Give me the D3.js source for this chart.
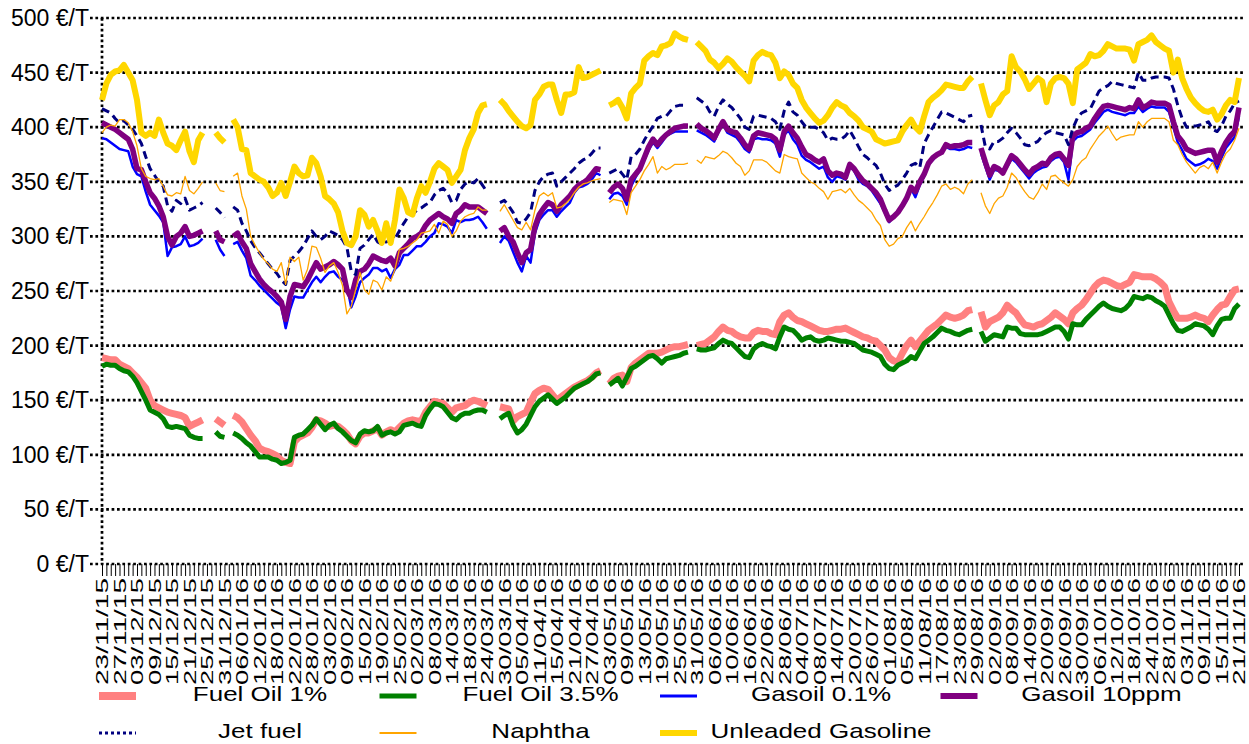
<!DOCTYPE html>
<html>
<head>
<meta charset="utf-8">
<script src="https://cdn.jsdelivr.net/npm/d3@7"></script>
<style>
  body { margin: 0; background: #fff; }
  svg { display: block; }
  text { font-family: "Liberation Sans", Arial, sans-serif; fill: #000; }
</style>
</head>
<body>
<svg id="chart" width="1249" height="744"></svg>
<script>
// one label every 4 business days
const tickLabels = ["23/11/15","27/11/15","03/12/15","09/12/15","15/12/15","21/12/15","25/12/15","31/12/15",
  "06/01/16","12/01/16","18/01/16","22/01/16","28/01/16","03/02/16","09/02/16","15/02/16","19/02/16","25/02/16",
  "02/03/16","08/03/16","14/03/16","18/03/16","24/03/16","30/03/16","05/04/16","11/04/16","15/04/16","21/04/16",
  "27/04/16","03/05/16","09/05/16","13/05/16","19/05/16","25/05/16","31/05/16","06/06/16","10/06/16","16/06/16",
  "22/06/16","28/06/16","04/07/16","08/07/16","14/07/16","20/07/16","26/07/16","01/08/16","05/08/16","11/08/16",
  "17/08/16","23/08/16","29/08/16","02/09/16","08/09/16","14/09/16","20/09/16","26/09/16","30/09/16","06/10/16",
  "12/10/16","18/10/16","24/10/16","28/10/16","03/11/16","09/11/16","15/11/16","21/11/16"]
const yTicks = [0, 50, 100, 150, 200, 250, 300, 350, 400, 450, 500]

// €/T per business day, null = no quote (holidays)
const fuelOil1 = [189,188,187,187,183,181,179,175,171,166,161,150,145,143,141,139,138,137,136,134,126,128,130,132,null,null,133,130,127,null,
  136,134,130,124,118,113,106,104,103,101,99,95,93,92,112,116,118,120,125,132,131,129,126,127,126,123,119,113,110,117,120,120,122,124,118,121,123,121,125,129,131,132,131,131,139,144,149,148,147,143,139,143,144,145,148,150,149,147,145,null,null,
  144,143,142,131,135,137,139,148,156,159,161,160,155,150,153,156,159,162,164,166,168,171,175,177,null,
  165,170,172,173,167,180,184,187,190,193,193,193,194,196,198,199,199,200,201,null,
  200,201,202,205,208,213,217,214,213,210,208,207,207,212,214,213,213,211,210,222,228,230,226,223,222,220,218,216,214,213,213,214,215,215,216,214,212,210,208,207,205,204,200,196,189,186,185,193,200,205,199,204,209,214,217,220,224,228,226,225,226,228,232,233,null,
  231,217,222,224,226,230,237,233,230,224,219,218,217,219,220,223,226,230,227,224,220,230,234,237,242,248,254,258,260,259,257,255,254,256,258,265,264,263,263,263,261,258,254,240,232,225,225,225,226,228,226,225,222,228,233,237,238,245,251,252]
const fuelOil35 = [181,183,182,182,179,177,176,172,166,158,150,141,139,137,133,126,125,126,125,124,118,116,115,115,null,null,121,117,116,null,
  120,118,115,111,108,103,98,98,98,96,95,92,93,95,116,118,119,123,127,133,128,123,127,129,124,121,117,113,111,119,122,121,122,126,118,120,121,119,121,127,128,129,127,126,136,142,147,146,144,139,134,132,136,138,138,140,141,141,139,null,null,
  133,136,138,127,120,123,128,136,144,149,152,155,151,147,150,153,157,161,163,165,167,170,174,175,null,
  164,167,170,163,171,179,181,184,187,190,191,188,184,188,189,190,191,193,194,null,
  197,196,196,197,198,202,205,203,202,198,194,190,189,197,200,202,200,199,197,208,217,215,214,210,205,207,208,205,204,205,207,206,205,204,204,203,202,199,196,195,194,192,190,183,179,178,182,184,186,190,188,195,202,205,208,212,216,214,213,211,210,212,214,215,null,
  213,204,207,210,209,208,217,216,216,211,210,210,210,210,211,213,215,217,217,213,206,220,219,219,224,228,232,236,239,236,234,233,232,234,238,245,244,243,245,244,241,239,236,228,220,214,213,215,217,220,219,218,215,210,218,224,225,225,234,238]
const gasoil01 = [390,389,386,383,380,379,378,364,357,355,341,329,324,319,313,282,290,291,293,300,291,292,294,298,null,null,297,288,282,null,
  293,295,287,280,264,260,255,251,247,243,239,236,216,233,245,244,244,251,258,263,258,263,267,268,263,260,255,235,245,258,262,265,271,271,268,270,262,270,274,283,283,287,291,291,295,300,303,312,311,309,303,315,313,315,315,316,318,313,307,null,null,
  294,300,296,286,276,268,282,276,303,315,320,324,324,318,323,327,331,340,345,346,348,352,358,356,null,
  334,339,340,337,329,346,354,361,370,379,386,381,386,392,394,396,396,396,396,null,
  397,395,393,390,387,396,403,395,393,391,386,380,377,389,390,389,389,388,385,373,393,397,389,384,374,370,368,365,362,364,354,350,355,354,352,364,360,352,348,346,342,336,330,322,313,318,322,327,333,344,336,347,355,366,370,375,378,382,380,380,379,380,382,381,null,
  376,364,352,361,360,358,364,371,368,363,358,353,358,361,363,364,369,372,373,368,352,387,391,392,395,398,404,409,414,416,414,413,412,411,413,413,419,414,417,419,418,418,418,414,400,386,379,371,368,365,366,368,371,369,362,372,381,386,391,410]
const gasoil10ppm = [404,402,400,398,395,392,389,380,362,361,350,340,335,328,318,300,292,300,303,309,300,301,303,305,null,null,305,297,295,null,
  300,303,295,289,275,268,261,256,252,249,245,240,224,245,256,255,254,260,268,276,270,272,274,277,274,270,251,244,260,268,270,275,282,280,278,277,280,273,285,289,293,298,300,303,310,315,318,321,318,316,312,321,324,329,327,327,327,324,321,null,null,
  305,308,300,295,285,276,285,288,309,320,326,331,329,323,329,333,337,343,347,349,352,357,362,361,null,
  340,345,348,344,334,352,357,362,372,382,389,384,389,393,396,399,400,401,401,null,
  403,399,397,394,390,398,405,398,396,395,390,384,380,392,395,394,393,392,389,379,396,401,395,390,382,375,373,370,368,371,360,356,358,357,354,366,362,356,351,348,344,340,334,324,315,318,322,328,335,345,341,350,357,367,372,375,377,384,382,383,383,384,386,386,null,
  381,368,356,364,362,358,366,374,371,366,361,357,362,364,367,366,372,375,376,371,365,392,395,396,399,401,408,414,419,420,419,418,417,416,418,417,425,418,420,423,422,422,422,420,405,392,387,380,378,376,377,378,379,379,368,378,386,392,396,418]
const jetFuel = [417,415,413,408,404,406,402,398,392,385,373,362,356,350,346,328,323,333,330,335,324,326,328,331,null,null,326,322,317,null,
  327,324,312,305,296,290,285,280,275,270,266,260,256,278,282,286,291,298,305,300,297,300,305,303,301,297,290,268,265,289,292,297,302,295,293,295,296,298,305,312,318,320,324,326,329,331,338,342,344,340,331,333,343,348,350,349,353,347,341,null,null,
  331,333,328,322,313,312,316,322,342,350,355,357,358,346,350,354,358,362,367,370,372,376,381,381,null,
  358,360,362,357,352,373,375,380,388,395,401,408,410,410,415,419,420,420,420,null,
  427,424,421,414,410,419,425,421,418,413,408,400,398,410,411,410,409,408,405,398,415,423,414,411,405,400,400,400,398,395,388,390,389,389,392,397,390,382,375,372,368,365,358,348,342,345,347,352,358,365,367,363,385,393,400,407,414,413,411,409,407,405,410,411,null,
  402,382,380,387,387,390,395,399,395,390,384,383,385,387,392,395,397,395,394,393,384,399,408,413,415,417,425,433,436,438,442,440,439,438,437,436,450,443,443,445,446,446,446,445,435,420,408,400,401,401,402,403,405,398,396,401,410,415,422,424]
const naphtha = [395,400,402,401,407,407,404,396,383,362,355,353,352,353,346,338,337,340,339,355,342,339,344,350,null,null,349,342,341,null,
  355,358,337,325,300,292,285,279,275,270,268,276,256,281,277,281,260,270,291,290,280,267,273,276,267,255,229,236,251,267,251,247,260,258,251,263,259,270,288,289,291,294,297,303,304,305,311,303,314,311,300,305,314,318,320,321,327,324,324,null,null,
  323,329,322,315,308,306,313,306,324,337,340,337,340,326,327,330,334,340,345,348,349,351,352,353,null,
  331,334,333,332,320,340,346,352,360,366,373,358,364,361,363,366,366,366,367,null,
  370,367,373,372,371,374,378,376,372,367,364,356,360,370,370,370,368,364,360,358,375,373,372,371,358,354,350,348,344,341,334,341,342,343,340,344,338,333,330,326,322,315,310,297,291,293,298,300,308,314,305,312,318,325,331,338,346,348,343,345,343,339,348,352,null,
  340,328,321,330,335,337,345,358,354,347,341,336,334,340,348,343,355,356,352,349,346,352,364,369,372,380,386,392,396,401,394,388,391,392,393,393,405,400,405,408,408,408,408,405,388,384,375,368,363,358,363,365,362,368,358,368,376,380,388,399]
const unleaded = [425,440,448,451,452,457,450,443,425,395,392,395,392,407,395,385,383,379,388,396,378,368,388,395,null,null,395,390,386,null,
  407,400,380,379,358,355,352,350,345,337,340,349,337,350,364,358,355,356,372,367,355,337,334,330,322,305,294,292,300,324,320,309,315,305,294,312,294,315,343,335,322,320,335,346,340,350,362,367,364,361,349,355,361,379,390,398,413,420,421,null,null,
  425,421,415,410,405,401,399,402,425,430,437,439,439,425,413,430,430,432,455,445,446,448,450,452,null,
  420,422,425,418,408,431,436,440,461,465,468,466,474,475,477,486,483,481,480,null,
  478,474,470,462,459,454,458,463,460,455,451,447,442,461,466,469,467,466,459,445,451,448,440,436,425,418,413,408,404,406,411,418,423,420,418,413,410,406,400,398,396,389,387,385,386,387,388,396,402,407,400,396,410,423,427,430,434,439,438,437,436,436,442,446,null,
  440,425,411,420,423,430,433,465,455,451,444,435,440,445,442,423,440,445,446,445,440,422,453,456,459,467,465,466,470,476,474,472,472,472,471,461,476,478,480,484,478,475,472,470,450,462,445,435,427,422,418,415,414,416,407,412,420,425,423,445]

const series = [
  { name: "Fuel Oil 1%", values: fuelOil1, color: "#ff8080", width: 7, legendWidth: 8 },
  { name: "Fuel Oil 3.5%", values: fuelOil35, color: "#008000", width: 5, legendWidth: 5 },
  { name: "Gasoil 0.1%", values: gasoil01, color: "#0000ff", width: 2.5, legendWidth: 3 },
  { name: "Gasoil 10ppm", values: gasoil10ppm, color: "#800080", width: 5.5, legendWidth: 6 },
  { name: "Jet fuel", values: jetFuel, color: "#000080", width: 3, dash: "8,5", legendWidth: 3, legendDash: "3,3" },
  { name: "Naphtha", values: naphtha, color: "#ffa500", width: 1.3, legendWidth: 2 },
  { name: "Unleaded Gasoline", values: unleaded, color: "#ffd700", width: 6, legendWidth: 6 }
]

const svg = d3.select("#chart")
const n = fuelOil1.length
const x = d3.scalePoint().domain(d3.range(n)).range([102, 1239])
const y = d3.scaleLinear().domain([0, 500]).range([564, 18])

// dotted grid
svg.append("g")
  .selectAll("line")
  .data(yTicks)
  .enter()
  .append("line")
  .attr("x1", 90)
  .attr("x2", 1244)
  .attr("y1", d => y(d))
  .attr("y2", d => y(d))
  .attr("stroke", "#000")
  .attr("stroke-width", 2.7)
  .attr("stroke-dasharray", "2.7,2.7")

// y axis (dotted too)
svg.append("line")
  .attr("x1", 102).attr("x2", 102)
  .attr("y1", y(500)).attr("y2", y(0))
  .attr("stroke", "#000")
  .attr("stroke-width", 2.7)
  .attr("stroke-dasharray", "2.7,2.7")

svg.append("g")
  .selectAll("text")
  .data(yTicks)
  .enter()
  .append("text")
  .attr("x", 89)
  .attr("y", d => y(d))
  .attr("dy", "0.35em")
  .attr("text-anchor", "end")
  .attr("font-size", "23px")
  .text(d => d + " €/T")

// x axis: a tick per day, a label every 4th
let xAxis = d3.axisBottom(x)
  .tickValues(d3.range(n))
  .tickSize(12)
  .tickFormat(i => i % 4 === 0 ? tickLabels[i / 4] : "")
let xg = svg.append("g")
  .attr("transform", `translate(0, ${y(0)})`)
  .call(xAxis)
xg.select(".domain").remove()
xg.selectAll(".tick line").attr("stroke", "#000").attr("stroke-width", 1)
xg.selectAll(".tick text")
  .attr("transform", "rotate(-90)")
  .attr("x", -14)
  .attr("y", 0)
  .attr("dy", "0.35em")
  .attr("text-anchor", "end")
  .attr("font-size", "17px")
  .attr("font-family", "Liberation Sans, Arial, sans-serif")
  .attr("fill", "#000")
  .filter(function () { return this.textContent !== "" })
  .attr("textLength", 107)
  .attr("lengthAdjust", "spacingAndGlyphs")

// series
let line = d3.line()
  .defined(d => d != null)
  .x((d, i) => x(i))
  .y(d => y(d))

svg.append("g")
  .selectAll("path")
  .data(series)
  .enter()
  .append("path")
  .attr("d", s => line(s.values))
  .attr("fill", "none")
  .attr("stroke", s => s.color)
  .attr("stroke-width", s => s.width)
  .attr("stroke-dasharray", s => s.dash || null)
  .attr("stroke-linejoin", "round")

// legend, 4 columns
let legend = svg.append("g")
  .selectAll("g")
  .data(series)
  .enter()
  .append("g")
  .attr("transform", (s, i) => `translate(${99 + (i % 4) * 280.5}, ${i < 4 ? 696 : 733})`)
legend.append("line")
  .attr("x1", 0).attr("x2", 37)
  .attr("stroke", s => s.color)
  .attr("stroke-width", s => s.legendWidth)
  .attr("stroke-dasharray", s => s.legendDash || null)
legend.append("text")
  .attr("transform", "translate(161, -2) scale(1.3, 1)")
  .attr("dy", "0.35em")
  .attr("text-anchor", "middle")
  .attr("font-size", "20px")
  .text(s => s.name)
</script>
</body>
</html>
